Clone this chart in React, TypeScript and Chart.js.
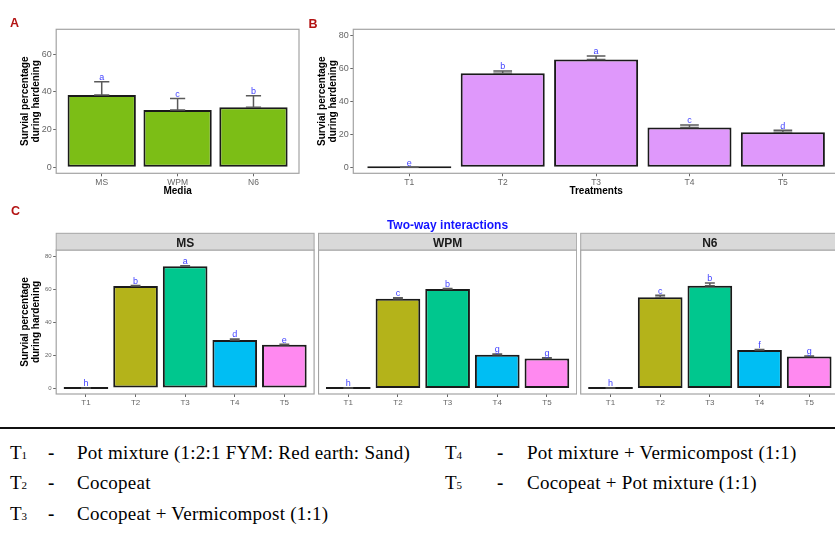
import React, { useEffect, useRef } from 'react';
import { Chart, registerables } from 'chart.js';

Chart.register(...registerables);
Chart.defaults.font.family = '"Liberation Sans", Arial, sans-serif';

// ---------- data ----------
const mediaLabels = ['MS', 'WPM', 'N6'];
const mediaMeans = [38.4, 30.4, 31.9];
const mediaErrors = [7.1, 6.2, 6.1];
const mediaLetters = ['a', 'c', 'b'];

const treatmentLabels = ['T1', 'T2', 'T3', 'T4', 'T5'];
const treatmentMeans = [0, 57.0, 65.3, 24.2, 21.2];
const treatmentErrors = [0, 1.4, 2.2, 1.4, 1.2];
const treatmentLetters = ['e', 'b', 'a', 'c', 'd'];

const msMeans = [0, 62.1, 74.2, 29.3, 26.3];
const msErrors = [0, 0.4, 0.3, 0.5, 0.3];
const msLetters = ['h', 'b', 'a', 'd', 'e'];

const wpmMeans = [0, 54.4, 60.3, 20.2, 18.0];
const wpmErrors = [0, 0.5, 0.3, 0.5, 0.4];
const wpmLetters = ['h', 'c', 'b', 'g', 'g'];

const n6Means = [0, 55.3, 62.3, 23.1, 19.2];
const n6Errors = [0, 1.2, 1.6, 0.4, 0.3];
const n6Letters = ['h', 'c', 'b', 'f', 'g'];

const yTicksA = [0, 20, 40, 60];
const yTicksB = [0, 20, 40, 60, 80];
const yTicksC = [0, 20, 40, 60, 80];

const legendCodesLeft = ['1', '2', '3'];
const legendTextsLeft = ['Pot mixture (1:2:1 FYM: Red earth: Sand)', 'Cocopeat', 'Cocopeat + Vermicompost (1:1)'];
const legendCodesRight = ['4', '5'];
const legendTextsRight = ['Pot mixture + Vermicompost (1:1)', 'Cocopeat + Pot mixture (1:1)'];

// ---------- styles ----------
const SANS = '"Liberation Sans", Arial, sans-serif';
const SERIF = '"Liberation Serif", "Times New Roman", serif';
const GREEN = '#7cbe16';
const PURPLE = '#df98fb';
const T1_COL = '#1a1a1a';
const treatColors = [T1_COL, '#b4b31a', '#00c78e', '#00bef3', '#ff89f0'];
const LETTER_COL = '#3f3fff';
const PANEL_RED = '#b31212';
const TICK_TEXT = '#666666';

type Panel = {
  key: string;
  left: number; top: number; width: number; height: number;
  padding: { left: number; top: number; right: number; bottom: number };
  yWidth: number; xHeight: number;
  yMin: number; yMax: number; yTicks: number[];
  labels: string[]; means: number[]; errors: number[]; letters: string[]; colors: string[];
  xFont: number; yFont: number;
  extra: (ctx: CanvasRenderingContext2D, a: any) => void;
};

function yTitle(ctx: CanvasRenderingContext2D, a: any) {
  const cy = (a.top + a.bottom) / 2;
  ctx.save();
  ctx.fillStyle = '#000';
  ctx.font = `bold 10px ${SANS}`;
  ctx.textAlign = 'center';
  ctx.textBaseline = 'middle';
  [['Survial percentage', a.left - 31.2], ['during hardening', a.left - 20.4]].forEach(([t, x]) => {
    ctx.save();
    ctx.translate(x as number, cy);
    ctx.rotate(-Math.PI / 2);
    ctx.fillText(t as string, 0, 0);
    ctx.restore();
  });
  ctx.restore();
}

function xTitle(ctx: CanvasRenderingContext2D, a: any, t: string) {
  ctx.save();
  ctx.fillStyle = '#000';
  ctx.font = `bold 10px ${SANS}`;
  ctx.textAlign = 'center';
  ctx.textBaseline = 'alphabetic';
  ctx.fillText(t, (a.left + a.right) / 2, 194);
  ctx.restore();
}

function panelLetter(ctx: CanvasRenderingContext2D, t: string, x: number, y: number) {
  ctx.save();
  ctx.fillStyle = PANEL_RED;
  ctx.font = `bold 12.5px ${SANS}`;
  ctx.textAlign = 'left';
  ctx.textBaseline = 'alphabetic';
  ctx.fillText(t, x, y);
  ctx.restore();
}

function strip(ctx: CanvasRenderingContext2D, a: any, t: string) {
  ctx.save();
  const h = 16.7;
  ctx.fillStyle = '#d9d9d9';
  ctx.fillRect(a.left, a.top - h, a.right - a.left, h);
  ctx.strokeStyle = '#a6a6a6';
  ctx.lineWidth = 1;
  ctx.strokeRect(a.left, a.top - h, a.right - a.left, h);
  ctx.fillStyle = '#1a1a1a';
  ctx.font = `bold 12px ${SANS}`;
  ctx.textAlign = 'center';
  ctx.textBaseline = 'alphabetic';
  ctx.fillText(t, (a.left + a.right) / 2, a.top - 3.4);
  ctx.restore();
}

const panels: Panel[] = [
  {
    key: 'A', left: 0, top: 0, width: 300, height: 200,
    padding: { left: 0, top: 29.3, right: 1, bottom: 0 },
    yWidth: 56.2, xHeight: 26.7, yMin: -3.2, yMax: 73.3, yTicks: yTicksA,
    labels: mediaLabels, means: mediaMeans, errors: mediaErrors, letters: mediaLetters,
    colors: mediaLabels.map(() => GREEN), xFont: 8.5, yFont: 9,
    extra: (ctx, a) => { yTitle(ctx, a); xTitle(ctx, a, 'Media'); panelLetter(ctx, 'A', 10, 27.3); },
  },
  {
    key: 'B', left: 300, top: 0, width: 540, height: 200,
    padding: { left: 0, top: 29.3, right: 1.1, bottom: 0 },
    yWidth: 53.3, xHeight: 26.7, yMin: -3.6, yMax: 83.6, yTicks: yTicksB,
    labels: treatmentLabels, means: treatmentMeans, errors: treatmentErrors, letters: treatmentLetters,
    colors: treatmentLabels.map((_, i) => (i === 0 ? T1_COL : PURPLE)), xFont: 8.5, yFont: 9,
    extra: (ctx, a) => { yTitle(ctx, a); xTitle(ctx, a, 'Treatments'); panelLetter(ctx, 'B', 8.5, 27.5); },
  },
  {
    key: 'MS', left: 0, top: 200, width: 315, height: 215,
    padding: { left: 0, top: 50, right: 0.9, bottom: 0 },
    yWidth: 56.2, xHeight: 21, yMin: -3.65, yMax: 84.05, yTicks: yTicksC,
    labels: treatmentLabels, means: msMeans, errors: msErrors, letters: msLetters,
    colors: treatColors, xFont: 8, yFont: 6,
    extra: (ctx, a) => { yTitle(ctx, a); strip(ctx, a, 'MS'); panelLetter(ctx, 'C', 11, 15.3); },
  },
  {
    key: 'WPM', left: 318, top: 200, width: 259, height: 215,
    padding: { left: 0.5, top: 50, right: 0.3, bottom: 0 },
    yWidth: 0, xHeight: 21, yMin: -3.65, yMax: 84.05, yTicks: yTicksC,
    labels: treatmentLabels, means: wpmMeans, errors: wpmErrors, letters: wpmLetters,
    colors: treatColors, xFont: 8, yFont: 6,
    extra: (ctx, a) => {
      strip(ctx, a, 'WPM');
      ctx.save();
      ctx.fillStyle = '#1414ff';
      ctx.font = `bold 12px ${SANS}`;
      ctx.textAlign = 'center';
      ctx.textBaseline = 'alphabetic';
      ctx.fillText('Two-way interactions', 447.5 - 318, 29.3);
      ctx.restore();
    },
  },
  {
    key: 'N6', left: 580, top: 200, width: 259, height: 215,
    padding: { left: 0.7, top: 50, right: 0, bottom: 0 },
    yWidth: 0, xHeight: 21, yMin: -3.65, yMax: 84.05, yTicks: yTicksC,
    labels: treatmentLabels, means: n6Means, errors: n6Errors, letters: n6Letters,
    colors: treatColors, xFont: 8, yFont: 6,
    extra: (ctx, a) => { strip(ctx, a, 'N6'); },
  },
];

function makePlugin(p: Panel) {
  return {
    id: 'annot_' + p.key,
    afterDatasetsDraw(chart: any) {
      const { ctx, chartArea: a } = chart;
      const x = chart.scales.x;
      const y = chart.scales.y;
      ctx.save();
      p.means.forEach((m, i) => {
        const cx = x.getPixelForValue(i);
        const hw = (x.getPixelForValue(i + 0.1) - x.getPixelForValue(i - 0.1)) / 2;
        const yb = y.getPixelForValue(m);
        const yt = y.getPixelForValue(m + p.errors[i]);
        ctx.strokeStyle = '#5a5a5a';
        ctx.lineWidth = 1.5;
        ctx.beginPath();
        ctx.moveTo(cx, yb); ctx.lineTo(cx, yt);
        ctx.moveTo(cx - hw, yt); ctx.lineTo(cx + hw, yt);
        ctx.moveTo(cx - hw, yb); ctx.lineTo(cx + hw, yb);
        ctx.stroke();
        ctx.fillStyle = LETTER_COL;
        ctx.font = `9px ${SANS}`;
        ctx.textAlign = 'center';
        ctx.textBaseline = 'alphabetic';
        ctx.fillText(p.letters[i], cx, yt - 1.6);
      });
      ctx.strokeStyle = '#a3a3a3';
      ctx.lineWidth = 1.2;
      ctx.strokeRect(a.left, a.top, a.right - a.left, a.bottom - a.top);
      ctx.restore();
      p.extra(ctx, a);
    },
  };
}

function buildConfig(p: Panel): any {
  const n = p.labels.length;
  const grid = { display: true, drawOnChartArea: false, drawTicks: true, tickLength: 3, color: '#666', lineWidth: 1, offset: false };
  return {
    type: 'bar',
    data: {
      datasets: [{
        data: p.means.map((v, i) => ({ x: i, y: v })),
        backgroundColor: p.colors,
        borderColor: '#1a1a1a',
        borderWidth: 2,
        borderSkipped: false,
        minBarLength: 2,
        barPercentage: 0.9,
        categoryPercentage: 1,
      }],
    },
    options: {
      responsive: false,
      animation: false,
      devicePixelRatio: 1,
      layout: { padding: p.padding },
      plugins: { legend: { display: false }, tooltip: { enabled: false }, title: { display: false } },
      scales: {
        x: {
          type: 'linear', min: -0.6, max: n - 1 + 0.6, offset: false, bounds: 'data',
          afterBuildTicks: (s: any) => { s.ticks = p.labels.map((_, i) => ({ value: i })); },
          afterFit: (s: any) => { s.height = p.xHeight; },
          ticks: {
            callback: (_v: any, i: number) => p.labels[i],
            font: { size: p.xFont }, color: TICK_TEXT, padding: 1, maxRotation: 0, autoSkip: false,
          },
          grid,
          border: { display: false },
        },
        y: {
          type: 'linear', min: p.yMin, max: p.yMax, bounds: 'data', display: p.yWidth > 0,
          afterBuildTicks: (s: any) => { s.ticks = p.yTicks.map((v) => ({ value: v })); },
          afterFit: (s: any) => { s.width = p.yWidth; },
          ticks: { callback: (v: any) => String(v), font: { size: p.yFont }, color: TICK_TEXT, padding: 1.5 },
          grid,
          border: { display: false },
        },
      },
    },
    plugins: [makePlugin(p)],
  };
}

function PanelChart({ p }: { p: Panel }) {
  const ref = useRef<HTMLCanvasElement>(null);
  useEffect(() => {
    const chart = new Chart(ref.current as HTMLCanvasElement, buildConfig(p));
    return () => chart.destroy();
  }, [p]);
  return (
    <canvas
      ref={ref}
      width={p.width}
      height={p.height}
      style={{ position: 'absolute', left: p.left, top: p.top, width: p.width, height: p.height }}
    />
  );
}

const textBase: React.CSSProperties = {
  position: 'absolute',
  fontFamily: SERIF,
  fontSize: 19,
  lineHeight: '19px',
  whiteSpace: 'nowrap',
  color: '#000',
  letterSpacing: 0.25,
};

function LegendRow({ code, text, top, xT, xDash, xText }: { code: string; text: string; top: number; xT: number; xDash: number; xText: number }) {
  return (
    <>
      <div style={{ ...textBase, left: xT, top, letterSpacing: 0 }}>
        T<span style={{ fontSize: 11 }}>{code}</span>
      </div>
      <div style={{ ...textBase, left: xDash, top, fontWeight: 'bold' }}>-</div>
      <div style={{ ...textBase, left: xText, top }}>{text}</div>
    </>
  );
}

export default function App() {
  return (
    <div style={{ position: 'fixed', left: 0, top: 0, width: 835, height: 556, overflow: 'hidden', background: '#fff' }}>
      {panels.map((p) => <PanelChart key={p.key} p={p} />)}
      <div style={{ position: 'absolute', left: 0, top: 427, width: 835, height: 2, background: '#111' }} />
      {legendCodesLeft.map((c, i) => (
        <LegendRow key={'l' + c} code={c} text={legendTextsLeft[i]} top={442.5 + i * 30.5} xT={10} xDash={48} xText={77} />
      ))}
      {legendCodesRight.map((c, i) => (
        <LegendRow key={'r' + c} code={c} text={legendTextsRight[i]} top={442.5 + i * 30.5} xT={445} xDash={497} xText={527} />
      ))}
    </div>
  );
}
